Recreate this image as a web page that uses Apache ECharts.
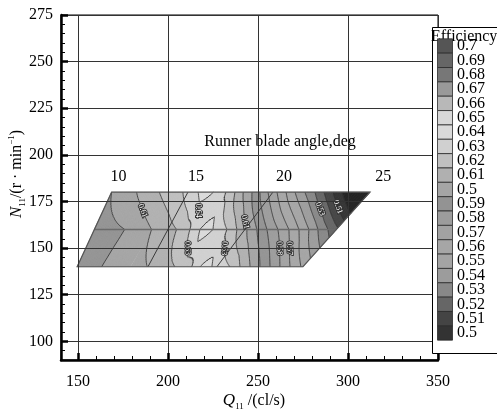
<!DOCTYPE html>
<html><head><meta charset="utf-8">
<script src="https://cdn.jsdelivr.net/npm/echarts@6/dist/echarts.min.js"></script>
<style>html,body{margin:0;padding:0;background:#fff;overflow:hidden}#c{width:497px;height:411px}</style>
</head><body><div id="c"></div>
<script>
// ---------------- data ----------------
// efficiency measured along three unit-speed rows (N11), nodes given by Q11
const rowN = [140, 160, 180];
const rowQ_140 = [149.6, 163.2, 188.5, 203.9, 213.2, 217.8, 221.1, 224.4, 234.4, 240.0, 245.6, 251.1, 256.7, 262.2, 267.8, 275.0];
const rowE_140 = [0.595, 0.600, 0.610, 0.620, 0.630, 0.640, 0.646, 0.640, 0.630, 0.620, 0.610, 0.600, 0.590, 0.580, 0.570, 0.558];
const rowQ_160 = [159.2, 176.1, 190.9, 204.8, 212.2, 217.8, 221.1, 225.0, 232.8, 238.3, 243.9, 249.4, 255.0, 261.1, 267.2, 272.8, 278.3, 283.3, 288.9, 293.7];
const rowE_160 = [0.595, 0.600, 0.610, 0.620, 0.630, 0.640, 0.648, 0.640, 0.630, 0.620, 0.610, 0.600, 0.590, 0.580, 0.570, 0.560, 0.550, 0.540, 0.530, 0.522];
const rowQ_180 = [168.7, 182.6, 195.2, 208.3, 216.8, 221.1, 225.2, 232.2, 237.2, 241.8, 246.7, 251.1, 255.6, 260.6, 265.6, 270.6, 276.1, 281.7, 286.7, 291.7, 296.7, 312.2];
const rowE_180 = [0.600, 0.610, 0.620, 0.630, 0.640, 0.646, 0.640, 0.630, 0.620, 0.610, 0.600, 0.590, 0.580, 0.570, 0.560, 0.550, 0.540, 0.530, 0.520, 0.510, 0.500, 0.470];
// runner blade angle lines (deg) : Q11 at N11=140 and N11=180
const bladeAngles = [10, 15, 20, 25];
const bladeQ_140 = [149.6, 188.9, 227.2, 275.0];
const bladeQ_180 = [168.7, 211.1, 258.3, 312.2];
// contour levels and colours
const contourLevels = [0.50,0.51,0.52,0.53,0.54,0.55,0.56,0.57,0.58,0.59,0.60,0.61,0.62,0.63,0.64,0.65,0.66,0.67,0.68,0.69,0.70];
const legendLabels = ['0.7','0.69','0.68','0.67','0.66','0.65','0.64','0.63','0.62','0.61','0.5','0.59','0.58','0.57','0.56','0.55','0.54','0.53','0.52','0.51','0.5'];
const legendColors = ['#555555','#666666','#777777','#999999','#b8b8b8','#d8d8d8','#dadada','#d0d0d0','#c0c0c0','#b0b0b0','#a5a5a5','#939393','#9c9c9c','#a2a2a2','#a6a6a6','#a4a4a4','#9c9c9c','#888888','#666666','#444444','#333333'];
const belowColor = '#222222';
// labelled contour lines: level, N11 where the label sits, approx Q11
const contourLabelLevels = [0.61, 0.64, 0.63, 0.63, 0.61, 0.58, 0.57, 0.53, 0.51];
const contourLabelN      = [170,  170,  150,  150,  164,  150,  150,  171,  172];
const contourLabelQ      = [185,  217,  213,  234,  245,  262,  268,  285,  293];
// axes
const xMajorTicks = [150, 200, 250, 300, 350];
const yMajorTicks = [100, 125, 150, 175, 200, 225, 250, 275];
const xMinorTicks = [160,170,180,190,210,220,230,240,260,270,280,290,310,320,330,340];
const yMinorTicks = [95,105,110,115,120,130,135,140,145,155,160,165,170,180,185,190,195,205,210,215,220,230,235,240,245,255,260,265,270];

// ---------------- field / contour computation (data space) ----------------
const rowQ = [rowQ_140, rowQ_160, rowQ_180], rowE = [rowE_140, rowE_160, rowE_180];
const lastB = bladeQ_140.length - 1;
function lerp(a, b, t) { return a + (b - a) * t; }
function leftQ(n) { return lerp(bladeQ_140[0], bladeQ_180[0], (n - 140) / 40); }
function rightQ(n) { return lerp(bladeQ_140[lastB], bladeQ_180[lastB], (n - 140) / 40); }
function rowVal(r, q) {
  const Q = rowQ[r], E = rowE[r];
  let i = 0;
  if (q >= Q[Q.length - 1]) i = Q.length - 2;
  else if (q > Q[0]) { while (q > Q[i + 1]) i++; }
  const t = (q - Q[i]) / (Q[i + 1] - Q[i]);
  return E[i] + (E[i + 1] - E[i]) * t;
}
function field(q, n) {
  const s = (q - leftQ(n)) / (rightQ(n) - leftQ(n));
  const r = n < rowN[1] ? 0 : 1;
  const n0 = rowN[r], n1 = rowN[r + 1];
  const t = (n - n0) / (n1 - n0);
  const q0 = leftQ(n0) + s * (rightQ(n0) - leftQ(n0));
  const q1 = leftQ(n1) + s * (rightQ(n1) - leftQ(n1));
  return lerp(rowVal(r, q0), rowVal(r + 1, q1), t);
}
const S = 180;
const nodes = rowN.map((n, r) => {
  const arr = [];
  for (let j = 0; j <= S; j++) {
    const q = leftQ(n) + (j / S) * (rightQ(n) - leftQ(n));
    arr.push({ q: q, n: n, v: rowVal(r, q) });
  }
  return arr;
});
const tris = [];
for (let r = 0; r < rowN.length - 1; r++) {
  for (let j = 0; j < S; j++) {
    const A = nodes[r][j], B = nodes[r][j + 1], C = nodes[r + 1][j + 1], D = nodes[r + 1][j];
    tris.push([A, B, C]); tris.push([A, C, D]);
  }
}
function cross(a, b, L) {
  const t = (L - a.v) / (b.v - a.v);
  return { q: a.q + t * (b.q - a.q), n: a.n + t * (b.n - a.n), v: L };
}
function clip(poly, L, above) {
  const out = [];
  for (let i = 0; i < poly.length; i++) {
    const cur = poly[i], prev = poly[(i + poly.length - 1) % poly.length];
    const inC = above ? cur.v >= L : cur.v < L;
    const inP = above ? prev.v >= L : prev.v < L;
    if (inC) { if (!inP) out.push(cross(prev, cur, L)); out.push(cur); }
    else if (inP) out.push(cross(prev, cur, L));
  }
  return out;
}
function bandColor(k) { // k = index of lower level, -1 = below lowest
  if (k < 0) return belowColor;
  return legendColors[legendColors.length - 1 - k];
}
const bandPolys = [];
tris.forEach(tri => {
  const vs = tri.map(p => p.v);
  const vmin = Math.min.apply(null, vs), vmax = Math.max.apply(null, vs);
  for (let k = -1; k < contourLevels.length; k++) {
    const lo = k < 0 ? -Infinity : contourLevels[k];
    const hi = k + 1 < contourLevels.length ? contourLevels[k + 1] : Infinity;
    if (vmax < lo || vmin >= hi) continue;
    let poly = tri.slice();
    if (lo > -Infinity) poly = clip(poly, lo, true);
    if (poly.length >= 3 && hi < Infinity) poly = clip(poly, hi, false);
    if (poly.length >= 3) bandPolys.push({ pts: poly, color: bandColor(k) });
  }
});
const levelSegs = contourLevels.map(L0 => {
  const L = L0 + 1e-7, segs = [];
  tris.forEach(tri => {
    const pts = [];
    for (let i = 0; i < 3; i++) {
      const a = tri[i], b = tri[(i + 1) % 3];
      if ((a.v - L) * (b.v - L) < 0) pts.push(cross(a, b, L));
    }
    if (pts.length === 2) segs.push(pts);
  });
  return segs;
});
function findCross(L, n, qh) {
  let best = null;
  for (let q = qh - 10; q < qh + 10; q += 0.1) {
    const f1 = field(q, n) - L, f2 = field(q + 0.1, n) - L;
    if (f1 * f2 <= 0 && f1 !== f2) {
      const qc = q + 0.1 * f1 / (f1 - f2);
      if (best === null || Math.abs(qc - qh) < Math.abs(best - qh)) best = qc;
    }
  }
  return best === null ? qh : best;
}

// ---------------- chart ----------------
const FONT = 'Liberation Serif, Times New Roman, serif';
const chart = echarts.init(document.getElementById('c'), null, { renderer: 'canvas' });

function renderItem(params, api) {
  const ch = [];
  bandPolys.forEach(bp => {
    ch.push({ type: 'polygon', shape: { points: bp.pts.map(p => api.coord([p.q, p.n])) },
      style: { fill: bp.color, stroke: bp.color, lineWidth: 0.6 } });
  });
  levelSegs.forEach(segs => {
    let d = '';
    segs.forEach(s => { const a = api.coord([s[0].q, s[0].n]), b = api.coord([s[1].q, s[1].n]);
      d += 'M' + a[0].toFixed(2) + ' ' + a[1].toFixed(2) + 'L' + b[0].toFixed(2) + ' ' + b[1].toFixed(2); });
    if (d) ch.push({ type: 'path', shape: { pathData: d }, style: { fill: 'none', stroke: '#2e2e2e', lineWidth: 0.8 } });
  });
  // mesh: middle row and interior blade-angle lines
  ch.push({ type: 'line', shape: (() => { const a = api.coord([leftQ(160), 160]), b = api.coord([rightQ(160), 160]); return { x1: a[0], y1: a[1], x2: b[0], y2: b[1] }; })(),
    style: { stroke: '#6a6a6a', lineWidth: 1.5 } });
  for (let j = 1; j < lastB; j++) {
    const a = api.coord([bladeQ_140[j], 140]), b = api.coord([bladeQ_180[j], 180]);
    ch.push({ type: 'line', shape: { x1: a[0], y1: a[1], x2: b[0], y2: b[1] }, style: { stroke: '#3a3a3a', lineWidth: 1 } });
  }
  const outline = [[bladeQ_140[0], 140], [bladeQ_140[lastB], 140], [bladeQ_180[lastB], 180], [bladeQ_180[0], 180]].map(p => api.coord(p));
  ch.push({ type: 'polygon', shape: { points: outline }, style: { fill: 'none', stroke: '#555', lineWidth: 1.2 } });
  // contour labels
  contourLabelLevels.forEach((L, i) => {
    const n = contourLabelN[i];
    const q = findCross(L, n, contourLabelQ[i]);
    const qa = findCross(L, n + 2, q), qb = findCross(L, n - 2, q);
    const pa = api.coord([qa, n + 2]), pb = api.coord([qb, n - 2]), pc = api.coord([q, n]);
    const th = Math.atan2(pb[1] - pa[1], pb[0] - pa[0]);
    ch.push({ type: 'text', x: pc[0], y: pc[1], rotation: -th,
      style: { text: L.toFixed(2), font: '8px ' + FONT, fill: '#fff', stroke: '#333', lineWidth: 2,
        align: 'center', verticalAlign: 'middle' } });
  });
  // blade angle numbers
  bladeAngles.forEach((ang, j) => {
    const n = 188;
    const q = bladeQ_180[j] + (n - 180) / 40 * (bladeQ_180[j] - bladeQ_140[j]);
    const p = api.coord([q, n]);
    ch.push({ type: 'text', x: p[0], y: p[1], style: { text: String(ang), font: '16px ' + FONT, fill: '#000', align: 'center', verticalAlign: 'middle' } });
  });
  return { type: 'group', children: ch };
}

const legendEls = [];
legendEls.push({ type: 'rect', shape: { x: 432.5, y: 27.5, width: 80, height: 326 }, style: { fill: '#fff', stroke: '#000', lineWidth: 1 }, z: 100 });
legendEls.push({ type: 'text', x: 431, y: 37, style: { text: 'Efficiency', font: '16px ' + FONT, fill: '#000', align: 'left', verticalAlign: 'middle' }, z: 101 });
const step = 14.35, y0 = 46;
legendLabels.forEach((lab, i) => {
  const yc = y0 + i * step;
  legendEls.push({ type: 'rect', shape: { x: 437.5, y: yc - step / 2, width: 15, height: step },
    style: { fill: legendColors[i], stroke: '#2a2a2a', lineWidth: 0.8 }, z: 101 });
  legendEls.push({ type: 'text', x: 457, y: yc, style: { text: lab, font: '16px ' + FONT, fill: '#000', align: 'left', verticalAlign: 'middle' }, z: 101 });
});
legendEls.push({ type: 'text', x: 280, y: 142, style: { text: 'Runner blade angle,deg', font: '16px ' + FONT, fill: '#000', align: 'center', verticalAlign: 'middle' }, z: 50 });
legendEls.push({ type: 'text', x: 17, y: 174, rotation: Math.PI / 2,
  style: { text: '{i|N}{s|11}{n|/(r · min}{p|−1}{n|)}', align: 'center', verticalAlign: 'middle',
    rich: { i: { fontFamily: FONT, fontStyle: 'italic', fontSize: 17, lineHeight: 20, fill: '#000' },
            s: { fontFamily: FONT, fontSize: 9, lineHeight: 20, verticalAlign: 'bottom', fill: '#000' },
            n: { fontFamily: FONT, fontSize: 16, lineHeight: 20, fill: '#000' },
            p: { fontFamily: FONT, fontSize: 9, lineHeight: 20, verticalAlign: 'top', fill: '#000' } } }, z: 50 });
legendEls.push({ type: 'text', x: 254, y: 401,
  style: { text: '{i|Q}{s|11}{n| /(cl/s)}', align: 'center', verticalAlign: 'middle',
    rich: { i: { fontFamily: FONT, fontStyle: 'italic', fontSize: 17, lineHeight: 20, fill: '#000' },
            s: { fontFamily: FONT, fontSize: 9, lineHeight: 20, verticalAlign: 'bottom', fill: '#000' },
            n: { fontFamily: FONT, fontSize: 16, lineHeight: 20, fill: '#000' } } }, z: 50 });

const XMIN = 140.6, XMAX = 350, YMIN = 90, YMAX = 275;
const labelStyle = { fontFamily: FONT, fontSize: 16, color: '#000' };
chart.setOption({
  animation: false,
  grid: { left: 61, right: 59, top: 15, bottom: 51, show: true, borderColor: '#000', borderWidth: 1, backgroundColor: 'transparent' },
  xAxis: [
    { type: 'value', min: XMIN, max: XMAX, position: 'bottom', z: 10,
      axisLine: { show: true, onZero: false, lineStyle: { color: '#000', width: 2.5 } },
      axisTick: { show: true, inside: true, length: 7, lineStyle: { color: '#000', width: 2.5 }, customValues: xMajorTicks },
      axisLabel: Object.assign({ margin: 14, customValues: xMajorTicks }, labelStyle),
      splitLine: { show: true, lineStyle: { color: '#333', width: 1 } } },
    { type: 'value', min: XMIN, max: XMAX, position: 'bottom', z: 10,
      axisLine: { show: false }, axisLabel: { show: false }, splitLine: { show: false },
      axisTick: { show: true, inside: true, length: 4, lineStyle: { color: '#000', width: 1 }, customValues: xMinorTicks } }
  ],
  yAxis: [
    { type: 'value', min: YMIN, max: YMAX, position: 'left', z: 10,
      axisLine: { show: true, onZero: false, lineStyle: { color: '#000', width: 2.5 } },
      axisTick: { show: true, inside: true, length: 7, lineStyle: { color: '#000', width: 2.5 }, customValues: yMajorTicks },
      axisLabel: Object.assign({ margin: 8, customValues: yMajorTicks }, labelStyle),
      splitLine: { show: true, lineStyle: { color: '#333', width: 1 } } },
    { type: 'value', min: YMIN, max: YMAX, position: 'left', z: 10,
      axisLine: { show: false }, axisLabel: { show: false }, splitLine: { show: false },
      axisTick: { show: true, inside: true, length: 4, lineStyle: { color: '#000', width: 1 }, customValues: yMinorTicks } }
  ],
  graphic: { elements: legendEls },
  series: [{ type: 'custom', coordinateSystem: 'cartesian2d', xAxisIndex: 0, yAxisIndex: 0, silent: true, z: 5,
    data: [[200, 150]], renderItem: renderItem }]
});
</script></body></html>
